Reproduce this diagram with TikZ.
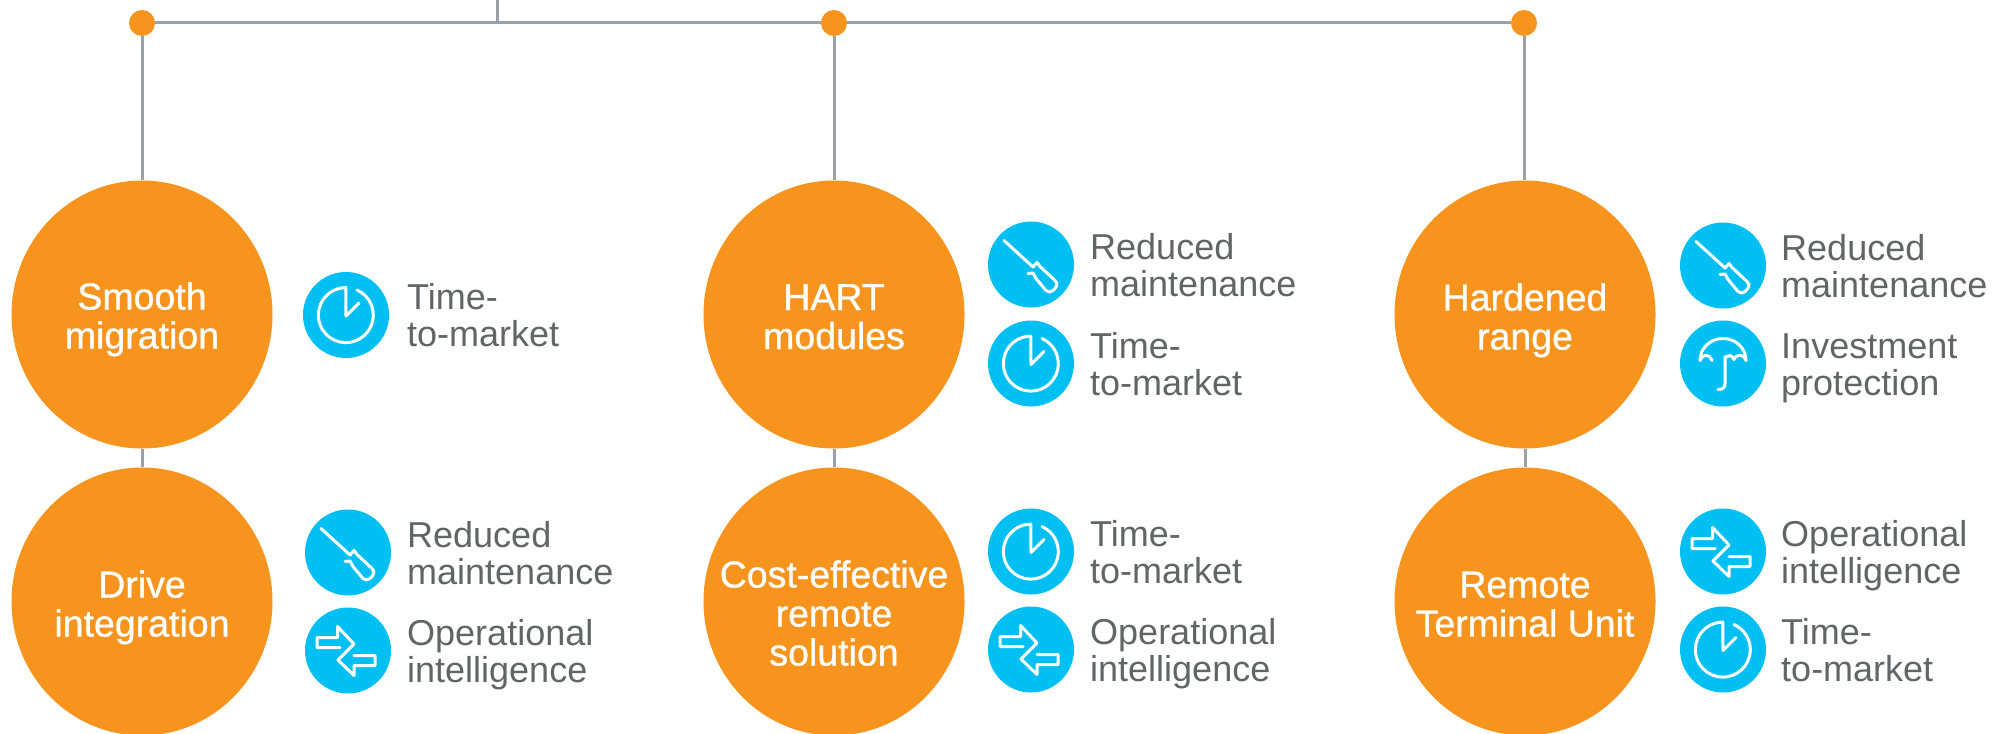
\documentclass[tikz,border=0pt]{standalone}
\usepackage{fontspec}
\setmainfont{Liberation Sans}
\newfontfamily\fatfont[FakeBold=0.9]{Liberation Sans}
\usetikzlibrary{calc,shapes.geometric}
\definecolor{dropfill}{HTML}{F7941D}
\definecolor{iconblue}{HTML}{00BFF3}
\definecolor{linkgrey}{HTML}{9AA2A9}
\definecolor{labelgrey}{HTML}{636466}
\def\drawlink{\draw[color=linkgrey, line width=3pt]}
\def\bignode{\node[ellipse,fill=dropfill,inner xsep=-60pt,inner ysep=-30pt,minimum width=261pt,minimum height=268pt,text=white,align=center,text depth=0pt,font=\fatfont\fontsize{37.5}{39}\selectfont]}
\def\dotnode{\node[circle,fill=dropfill,inner sep=0pt,minimum size=26pt]}
\def\iconnode{\node[circle,fill=iconblue,inner sep=0pt,minimum size=86pt]}
\def\labelnode{\node[anchor=west,inner sep=0pt,align=left,text=labelgrey,text height=63pt,text depth=0pt,font=\fontsize{36}{37}\selectfont]}
\tikzset{
  glyph/.style={draw=white,line width=3pt,line join=round,line cap=round},
  clockicon/.pic={
    \draw[glyph] (11,-25) arc[start angle=-66,end angle=270,radius=27.5] -- (0,1) -- (13,-12);
  },
  drivericon/.pic={
    \draw[glyph] (-27,-24) -- (2,2.5) -- (6,-2) -- (9,2) -- (24,16)
      .. controls (28,20) and (25,23) .. (22,26)
      .. controls (20,28) and (17,28) .. (15,26)
      -- (5,14) -- (2,8.5) -- (-3,9);
  },
  arrowsicon/.pic={
    \draw[glyph] (-8,-3) -- (-31,-3) -- (-31,-13) -- (-10.5,-13) -- (-10.5,-24)
      -- (6,-6.5) -- (-10,9.5) -- (6,25) -- (6,15) -- (27,15) -- (27,5) -- (6,5);
  },
  umbrellaicon/.pic={
    \draw[glyph] (-23,-3) .. controls (-23,-16) and (-12,-25) .. (0,-25)
      .. controls (12,-25) and (23,-16) .. (23,-3)
      .. controls (20,-10) and (14,-10) .. (11,-4)
      .. controls (9,-9) and (5,-9) .. (2,-5);
    \draw[glyph] (-23,-3) .. controls (-20,-10) and (-14,-10) .. (-11,-3);
    \draw[glyph] (2,-7) -- (2,20) .. controls (2,24) and (0,26) .. (-5,26);
  },
}

\begin{document}
\begin{tikzpicture}[x=1pt,y=-1pt]
\useasboundingbox (0,0) rectangle (2009,733);
\coordinate (stemtop) at (497,0);

% ---------- the bar along the top
\dotnode (dotA) at (142,23) {};
\dotnode (dotB) at (834,23) {};
\dotnode (dotC) at (1524,23) {};
\drawlink (dotA) -- (dotB);
\drawlink (dotB) -- (dotC);
\drawlink (stemtop) -- (stemtop |- dotA);

% -------- column A --------
\bignode[text height=68pt] (smooth) at ($ (dotA) + (0,291.5) $) {Smooth\\migration};
\bignode[text height=70pt] (drive) at ($ (smooth) + (0,287) $) {Drive\\integration};
\drawlink (dotA) -- (smooth);
\drawlink (smooth) -- (drive);
\iconnode (smoothtime) at ($ (smooth) + (204,0.5) $) {};
\pic at (smoothtime) {clockicon};
\labelnode (smoothtimetext) at ($ (smoothtime) + (61,0) $) {Time-\\to-market};
\iconnode (drivemaint) at ($ (drive) + (206,-49) $) {};
\pic at (drivemaint) {drivericon};
\labelnode (drivemainttext) at ($ (drivemaint) + (59,0) $) {Reduced\\maintenance};
\iconnode (driveoper) at ($ (drive) + (206,49) $) {};
\pic at (driveoper) {arrowsicon};
\labelnode (driveopertext) at ($ (driveoper) + (59,0) $) {Operational\\intelligence};

% -------- column B --------
\bignode[text height=69pt] (hart) at ($ (dotB) + (0,291.5) $) {HART\\modules};
\bignode[text height=128pt] (remote) at ($ (hart) + (0,287) $) {Cost-effective\\remote\\solution};
\drawlink (dotB) -- (hart);
\drawlink (hart) -- (remote);
\iconnode (hartmaint) at ($ (hart) + (197,-50) $) {};
\pic at (hartmaint) {drivericon};
\labelnode (hartmainttext) at ($ (hartmaint) + (59,0) $) {Reduced\\maintenance};
\iconnode (harttime) at ($ (hart) + (197,49) $) {};
\pic at (harttime) {clockicon};
\labelnode (harttimetext) at ($ (harttime) + (59,0) $) {Time-\\to-market};
\iconnode (remotetime) at ($ (remote) + (197,-50) $) {};
\pic at (remotetime) {clockicon};
\labelnode (remotetimetext) at ($ (remotetime) + (59,0) $) {Time-\\to-market};
\iconnode (remoteoper) at ($ (remote) + (197,48) $) {};
\pic at (remoteoper) {arrowsicon};
\labelnode (remoteopertext) at ($ (remoteoper) + (59,0) $) {Operational\\intelligence};

% -------- column C --------
\bignode[text height=70pt] (hardened) at ($ (dotC) + (1,291.5) $) {Hardened\\range};
\bignode[text height=70pt] (terminal) at ($ (hardened) + (0,287) $) {Remote\\Terminal Unit};
\drawlink (dotC) -- (dotC |- hardened.north);
\drawlink (hardened) -- (terminal);
\iconnode (hardmaint) at ($ (hardened) + (198,-49) $) {};
\pic at (hardmaint) {drivericon};
\labelnode (hardmainttext) at ($ (hardmaint) + (58,0) $) {Reduced\\maintenance};
\iconnode (hardinvest) at ($ (hardened) + (198,49) $) {};
\pic at (hardinvest) {umbrellaicon};
\labelnode (hardinvesttext) at ($ (hardinvest) + (58,0) $) {Investment\\protection};
\iconnode (termoper) at ($ (terminal) + (198,-50) $) {};
\pic at (termoper) {arrowsicon};
\labelnode (termopertext) at ($ (termoper) + (58,0) $) {Operational\\intelligence};
\iconnode (termtime) at ($ (terminal) + (198,48) $) {};
\pic at (termtime) {clockicon};
\labelnode (termtimetext) at ($ (termtime) + (58,0) $) {Time-\\to-market};
\end{tikzpicture}
\end{document}
